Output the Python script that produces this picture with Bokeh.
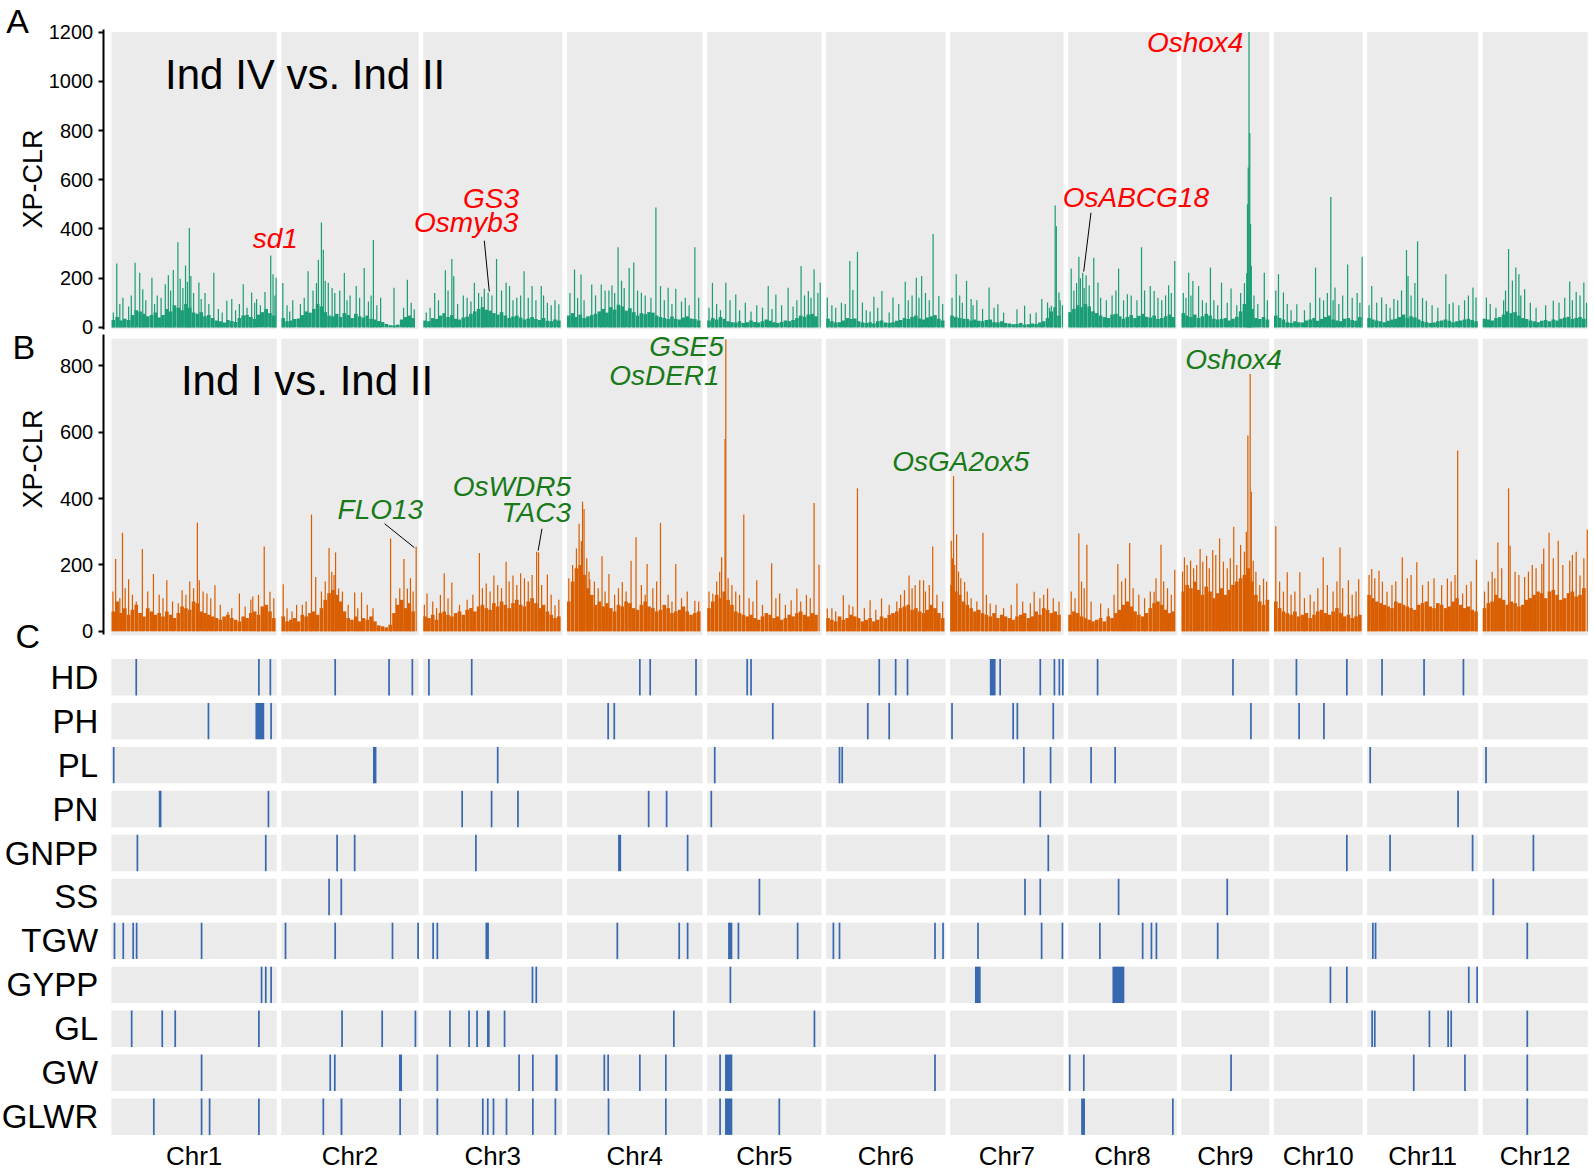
import math
from bokeh.plotting import figure
from bokeh.models import Range1d, Label, FixedTicker, LinearAxis
from bokeh.embed import file_html
from bokeh.resources import INLINE

FONT = "Liberation Sans"

# ---------------- data ----------------
chrom_names = ["Chr1", "Chr2", "Chr3", "Chr4", "Chr5", "Chr6", "Chr7", "Chr8", "Chr9", "Chr10", "Chr11", "Chr12"]
chrom_len = [43.27, 35.94, 36.41, 35.50, 29.96, 31.25, 29.70, 28.44, 23.01, 23.21, 29.02, 27.53]

a_yticks = [0, 200, 400, 600, 800, 1000, 1200]
b_yticks = [0, 200, 400, 600, 800]

# Panel A (Ind IV vs. Ind II): dense background level in 1-Mb bins, per chromosome
a_base = [
    [30,42,28,35,30,50,70,65,55,45,50,60,40,50,75,65,90,80,70,95,80,60,55,62,45,50,38,28,25,20,30,26,22,38,48,50,42,34,52,62,75,58,48],
    [38,25,28,34,36,50,65,60,75,95,85,62,48,45,55,42,58,50,38,55,45,40,48,35,32,26,22,14,9,8,11,32,42,48,38],
    [28,25,38,34,48,58,42,50,35,32,40,44,55,65,75,82,72,68,58,52,62,48,38,44,48,40,32,36,42,34,30,38,27,25,32,28],
    [48,58,42,52,38,45,50,55,65,75,60,82,72,92,85,68,78,62,48,58,54,62,60,48,42,38,34,44,35,32,40,45,36,34,28],
    [28,38,32,42,35,25,21,20,25,18,21,28,22,20,25,32,27,21,18,22,28,25,30,38,48,43,52,55,45],
    [35,25,20,21,28,38,34,36,25,20,18,21,16,25,28,20,18,21,27,30,38,34,42,48,36,32,40,45,50,35,28],
    [48,42,38,35,34,28,32,27,25,30,32,21,20,25,18,16,13,14,18,11,13,16,14,20,25,38,65,82,48],
    [62,75,90,82,95,85,65,58,48,42,38,52,55,45,35,42,50,38,47,55,43,40,48,34,38,45,52,42],
    [58,48,42,52,38,45,55,48,35,32,34,38,28,35,43,65,95,120,75,38,34,42,32],
    [48,38,32,21,18,25,21,20,28,32,38,27,34,42,48,32,28,25,35,38,30,27,42],
    [38,32,28,25,21,27,32,35,42,52,38,45,40,32,25,21,18,20,25,28,32,27,21,25,28,32,35,30,25],
    [35,32,28,38,42,52,65,58,62,48,38,34,28,25,21,27,30,25,32,28,35,40,43,34,38,42,35],
]
# Panel A major peaks: (position in Mb, XP-CLR)
a_peaks = [
    [(1.4,260),(3.0,120),(6.2,263),(7.4,222),(8.2,155),(10.6,202),(12.0,130),(14.1,175),(14.9,212),(16.2,233),(17.4,346),(18.0,198),(19.4,252),(20.4,404),(20.8,209),(22.9,182),(24.5,140),(26.8,222),(30.2,108),(31.5,115),(34.5,175),(36.7,142),(38.0,115),(40.2,144),(41.7,292),(42.3,216),(43.1,202)],
    [(0.4,180),(3.0,110),(7.0,228),(9.7,275),(10.5,426),(11.0,315),(12.3,181),(14.0,140),(16.5,221),(18.0,130),(19.6,168),(21.7,241),(24.1,355),(26.0,120),(29.5,161),(33.0,194),(34.8,74)],
    [(0.8,60),(3.0,140),(5.8,232),(7.5,278),(8.0,208),(10.5,130),(13.4,181),(16.0,157),(17.0,141),(19.2,278),(21.7,181),(22.6,168),(24.5,120),(26.4,228),(28.5,168),(30.9,168),(32.5,100),(35.5,94)],
    [(2.0,235),(3.7,215),(6.5,174),(9.0,174),(11.0,150),(13.4,326),(16.3,241),(17.5,264),(19.5,141),(23.3,487),(24.5,168),(26.5,161),(28.5,157),(31.0,120),(33.5,326)],
    [(1.4,181),(4.9,181),(7.5,134),(10.0,100),(13.0,90),(16.0,168),(18.0,134),(21.2,161),(24.6,249),(26.5,148),(28.0,236),(29.6,182)],
    [(0.3,121),(4.0,100),(6.2,270),(7.0,152),(8.2,307),(9.5,101),(12.5,125),(14.6,148),(17.5,121),(20.7,185),(23.6,202),(25.0,209),(28.0,380),(29.5,128)],
    [(1.6,216),(4.3,189),(5.5,115),(10.2,162),(12.5,94),(17.5,74),(19.5,88),(24.0,115),(25.5,101),(26.5,88),(27.5,495),(27.8,411),(28.5,142)],
    [(0.8,239),(2.8,287),(3.8,222),(4.7,212),(6.7,283),(7.8,182),(13.2,239),(15.5,135),(19.2,326),(21.5,168),(22.5,148),(26.3,171),(27.9,270)],
    [(1.9,222),(3.0,189),(4.5,168),(7.6,243),(10.5,182),(13.0,158),(17.3,500),(17.5,650),(17.7,1200),(17.9,790),(18.1,420),(18.3,250),(21.7,222)],
    [(1.2,216),(2.5,142),(6.0,94),(10.9,243),(14.9,530),(16.0,162),(19.3,256),(23.1,287)],
    [(1.2,168),(3.8,121),(7.0,115),(10.3,314),(10.7,209),(13.2,350),(15.5,108),(20.6,216),(22.5,101),(27.7,162),(28.5,121)],
    [(1.0,121),(6.8,319),(8.7,243),(9.5,216),(11.0,155),(18.5,108),(22.8,186),(24.5,144),(26.5,182)],
]
# Panel A smaller peaks
a_minor = [
    [(0.5,60),(2.2,95),(4.5,85),(5.2,130),(9.0,110),(11.3,95),(13.0,120),(15.5,150),(18.7,160),(19.9,185),(21.5,140),(23.5,115),(25.5,95),(28.0,75),(29.0,60),(32.5,70),(33.5,95),(35.5,80),(37.5,100),(39.0,90),(42.8,130)],
    [(1.5,90),(2.2,65),(5.0,95),(6.0,120),(8.3,150),(9.2,180),(11.5,190),(13.3,160),(15.3,150),(17.2,110),(20.5,120),(22.8,105),(23.5,130),(25.0,90),(32.0,80),(34.0,100)],
    [(1.8,80),(4.0,110),(6.5,150),(9.0,95),(11.5,120),(12.5,105),(14.5,140),(15.3,125),(18.0,130),(20.5,150),(23.5,110),(25.5,130),(27.5,120),(29.5,110),(31.5,130),(33.5,90),(34.5,110)],
    [(0.8,140),(2.8,120),(4.5,110),(7.5,130),(10.0,150),(11.8,170),(12.5,140),(14.3,190),(15.0,160),(18.5,150),(20.5,130),(22.0,120),(25.5,110),(27.5,95),(30.0,105),(32.0,90),(34.5,120)],
    [(0.5,80),(2.5,95),(3.5,70),(6.0,110),(8.5,70),(11.5,65),(14.5,80),(17.0,75),(19.5,90),(22.5,85),(23.5,110),(25.5,130),(27.2,120),(29.0,140)],
    [(1.5,90),(2.5,80),(5.0,95),(10.5,70),(11.5,65),(13.5,80),(16.5,60),(19.0,95),(21.5,110),(22.5,130),(24.3,120),(26.0,140),(27.0,110),(30.5,95)],
    [(0.5,120),(2.5,130),(3.2,100),(6.0,90),(7.0,110),(8.5,75),(11.5,80),(14.0,60),(21.0,55),(22.5,60),(26.0,80),(28.8,110),(29.4,90)],
    [(1.5,150),(2.2,180),(3.2,200),(4.2,160),(5.5,170),(8.5,120),(10.0,110),(11.5,130),(12.5,150),(14.5,110),(16.5,130),(18.0,110),(20.0,150),(23.5,120),(24.5,110),(25.5,130),(27.0,140)],
    [(0.5,140),(1.2,120),(2.5,130),(5.5,110),(6.5,100),(8.5,110),(9.5,90),(12.0,100),(14.5,90),(15.5,140),(16.5,180),(17.1,220),(19.0,130),(20.0,95),(22.5,110)],
    [(0.5,150),(3.5,95),(4.5,70),(8.0,70),(9.5,100),(12.0,120),(13.0,110),(14.0,140),(15.5,110),(17.0,95),(18.0,130),(20.5,120),(21.8,140),(22.5,100)],
    [(0.5,90),(2.5,100),(5.0,95),(6.0,80),(8.0,110),(9.0,150),(11.5,130),(12.5,180),(14.5,120),(17.0,90),(18.5,80),(21.5,95),(24.0,90),(25.5,110),(26.5,130)],
    [(2.0,95),(3.5,80),(5.5,110),(6.0,150),(7.8,190),(10.0,130),(12.5,100),(14.0,80),(16.5,90),(20.0,100),(21.5,120),(23.5,110),(25.5,130),(27.2,100)],
]

# Panel B (Ind I vs. Ind II)
b_base = [
    [60,90,55,70,50,65,80,55,45,70,60,50,55,45,60,50,40,55,75,70,65,90,85,60,55,50,45,40,35,45,50,40,35,30,45,40,55,60,50,75,80,60,40],
    [45,30,35,40,30,50,45,55,60,50,70,95,115,125,110,90,60,40,35,45,30,40,35,45,30,18,15,12,20,55,80,95,70,85,60],
    [45,40,50,35,55,60,50,45,55,60,50,65,70,60,75,80,70,65,85,75,90,80,70,85,95,80,75,90,100,85,70,80,60,50,40,45],
    [90,150,190,200,170,130,110,80,90,75,85,70,60,80,75,90,85,70,65,80,90,75,70,60,65,80,70,55,60,65,75,60,50,55,60],
    [70,90,110,100,120,95,80,60,55,50,45,50,40,35,45,55,50,40,45,35,40,50,45,55,60,50,45,55,50],
    [40,35,30,45,35,40,50,45,40,30,35,40,30,35,45,40,50,55,60,70,75,80,65,70,60,55,65,80,70,55,40],
    [140,120,110,90,80,70,60,65,55,50,45,55,40,50,45,40,35,45,50,55,40,45,60,50,70,65,55,60,50],
    [50,60,55,45,40,35,30,35,40,30,45,40,55,65,80,90,75,60,50,45,55,70,85,90,80,65,55,60],
    [120,140,130,150,125,110,135,120,100,115,130,110,125,140,150,160,170,190,150,110,90,80,95],
    [90,70,60,55,50,60,45,50,55,40,50,60,65,55,50,60,70,55,45,50,40,45,50],
    [110,100,90,85,80,75,70,90,85,80,75,70,65,80,85,90,75,70,85,80,70,75,90,100,80,70,75,65,60],
    [70,85,90,110,100,95,80,90,85,75,80,95,100,110,120,115,100,120,125,110,95,100,115,120,105,110,130],
]
b_peaks = [
    [(1.1,218),(2.9,297),(4.5,157),(8.1,248),(11.0,173),(14.5,154),(18.5,124),(20.5,150),(22.5,327),(23.0,154),(25.0,114),(27.1,139),(30.5,59),(33.5,114),(37.0,105),(40.0,256),(41.5,119)],
    [(0.5,142),(4.0,80),(7.9,352),(9.0,164),(12.5,251),(14.2,238),(15.0,129),(19.2,117),(21.0,117),(28.6,280),(32.1,218),(33.0,129),(35.3,256)],
    [(1.0,114),(5.5,175),(7.5,147),(14.7,236),(16.5,144),(18.5,168),(21.7,210),(23.5,168),(25.5,175),(29.7,240),(30.2,238),(32.5,171),(34.5,79)],
    [(3.2,324),(3.8,272),(4.1,391),(4.5,369),(6.0,157),(9.2,226),(11.0,173),(14.5,149),(16.8,213),(18.1,284),(21.0,203),(24.5,327),(28.5,203),(33.5,92)],
    [(1.5,114),(3.8,223),(4.7,580),(4.9,880),(9.6,352),(13.0,154),(16.9,205),(19.0,114),(22.0,94),(23.5,129),(28.0,387),(29.3,201)],
    [(0.3,69),(4.5,109),(8.2,431),(11.5,94),(14.5,99),(20.5,124),(21.7,168),(24.5,154),(25.5,154),(27.9,256)],
    [(0.3,273),(0.9,468),(1.7,292),(3.8,149),(8.6,297),(10.5,84),(17.5,144),(22.0,119),(25.5,129)],
    [(2.8,295),(4.9,261),(8.5,84),(13.0,203),(16.1,266),(22.5,119),(24.3,261),(27.9,186)],
    [(0.8,223),(2.4,213),(4.9,248),(6.6,228),(8.2,245),(10.0,280),(13.7,315),(17.4,590),(18.0,776),(18.3,421),(18.8,213),(21.5,159)],
    [(0.5,317),(3.5,178),(6.8,178),(12.9,223),(17.3,253),(19.5,154),(22.2,157)],
    [(1.2,188),(3.1,183),(5.2,119),(9.2,223),(13.0,208),(21.0,159),(23.7,545),(25.0,114),(28.6,216)],
    [(4.0,268),(6.8,431),(7.2,258),(11.0,164),(15.5,203),(17.4,297),(19.8,273),(22.8,213),(25.5,168),(27.4,307)],
]
b_minor = [
    [(0.4,120),(2.2,100),(3.6,130),(5.5,110),(6.5,90),(9.5,120),(12.5,110),(13.5,100),(16.0,90),(17.5,85),(19.5,110),(21.5,130),(24.0,120),(26.0,100),(28.5,80),(31.5,70),(35.0,75),(36.5,95),(38.5,110),(42.5,100)],
    [(1.5,70),(2.8,60),(5.5,80),(6.5,90),(10.5,120),(11.5,150),(13.2,180),(13.8,170),(16.0,120),(17.5,80),(20.0,70),(22.5,80),(24.0,70),(30.0,100),(31.0,130),(33.8,160),(34.5,120)],
    [(0.3,80),(2.5,90),(3.5,70),(4.5,110),(6.5,100),(9.5,80),(11.5,95),(13.0,110),(15.5,130),(17.5,120),(19.5,140),(20.5,130),(22.5,150),(24.5,140),(26.5,160),(27.5,150),(28.5,170),(31.0,140),(33.5,110),(35.5,95)],
    [(0.5,160),(1.5,200),(2.5,250),(5.2,220),(5.8,180),(7.2,150),(8.2,130),(10.0,120),(12.5,110),(13.5,130),(15.5,120),(19.5,140),(20.5,110),(22.5,130),(23.5,150),(26.5,110),(27.5,90),(30.0,100),(31.5,120),(34.5,90)],
    [(0.5,120),(2.5,150),(3.3,180),(5.5,160),(6.5,140),(7.5,120),(8.5,110),(11.0,100),(12.0,90),(14.5,80),(18.0,100),(20.5,80),(24.5,90),(26.0,110),(27.0,100)],
    [(1.5,70),(2.5,60),(6.0,80),(7.0,75),(10.0,70),(13.0,65),(16.5,80),(18.5,90),(19.5,110),(22.5,130),(23.3,140),(26.0,120),(27.0,140),(29.0,110),(30.5,90)],
    [(0.6,220),(1.2,200),(2.2,180),(2.8,160),(4.5,120),(5.5,100),(7.0,90),(9.5,110),(12.0,80),(14.0,70),(16.0,80),(19.0,90),(21.0,85),(23.5,100),(24.5,110),(27.0,100),(28.5,90)],
    [(0.8,120),(1.8,100),(3.5,150),(4.2,130),(6.0,90),(10.5,70),(12.0,110),(14.0,150),(15.0,160),(17.0,130),(18.5,110),(20.0,100),(21.5,120),(23.0,160),(25.0,150),(26.0,130),(27.0,110)],
    [(0.3,180),(1.5,200),(3.2,190),(4.0,200),(5.6,210),(7.3,190),(9.0,230),(11.0,210),(12.0,190),(12.8,220),(14.5,200),(15.5,260),(16.5,240),(17.0,300),(19.5,180),(20.5,140),(22.3,150)],
    [(1.5,150),(2.5,120),(4.5,110),(5.5,120),(8.0,100),(9.5,110),(10.5,90),(11.5,130),(14.0,140),(15.5,120),(16.5,150),(18.0,130),(20.5,110),(21.5,120)],
    [(0.5,170),(2.0,160),(4.0,150),(6.5,140),(7.5,150),(10.5,160),(11.5,170),(14.5,140),(16.0,150),(17.5,160),(19.5,140),(22.0,150),(23.0,170),(26.0,140),(27.2,150)],
    [(0.5,120),(1.5,150),(2.5,180),(3.2,160),(5.0,190),(8.5,180),(9.5,170),(12.0,180),(13.0,200),(14.0,190),(16.0,250),(18.5,220),(21.0,200),(23.5,230),(24.5,240),(26.5,220)],
]

# Panel C: trait-associated regions, (chromosome, start Mb[, end Mb])
traits = ["HD", "PH", "PL", "PN", "GNPP", "SS", "TGW", "GYPP", "GL", "GW", "GLWR"]
qtl_HD = [(1,6.5),(1,38.6),(1,41.6),(2,14.1),(2,28.2),(2,34.3),(3,1.5),(3,12.7),(4,19.1),(4,21.8),(4,33.8),(5,10.5),(5,11.5),(6,13.9),(6,18.2),(6,21.3),(7,10.4,11.9),(7,13.1),(7,23.6),(7,27.3),(7,28.6),(7,29.5),(8,7.7),(9,13.5),(10,5.9),(10,19.1),(11,3.9),(11,14.9),(11,25.2)]
qtl_PH = [(1,25.4),(1,37.7,40.0),(1,41.8),(4,10.8),(4,12.4),(5,17.2),(6,10.9),(6,16.5),(7,0.5),(7,16.5),(7,17.6),(7,27.0),(9,18.0,18.4),(10,6.6),(10,13.1)]
qtl_PL = [(1,0.6),(2,24.0,24.9),(3,19.5),(5,2.0),(6,3.5),(6,4.2),(7,19.3),(7,26.3),(8,6.0),(8,12.3),(11,0.8),(12,0.9)]
qtl_PN = [(1,12.4,13.1),(1,41.1),(3,10.2),(3,17.9),(3,24.8),(4,21.4),(4,26.1),(5,1.1),(7,23.6),(11,23.8)]
qtl_GNPP = [(1,6.8),(1,40.4),(2,14.6),(2,19.2),(3,13.8),(4,13.4,14.2),(4,31.6),(7,25.7),(10,19.1),(11,6.0),(11,27.6),(12,13.3)]
qtl_SS = [(2,12.5),(2,15.7),(5,13.7),(7,19.6),(7,23.6),(8,13.2),(9,12.0),(12,2.8)]
qtl_TGW = [(1,0.8),(1,3.1),(1,5.7),(1,6.6),(1,23.6),(2,1.1),(2,14.1),(2,29.1),(2,35.8),(3,2.6),(3,3.7),(3,16.3,17.2),(4,13.2),(4,29.4),(4,31.6),(5,5.5,6.6),(5,8.2),(5,23.7),(6,1.9),(6,3.5),(6,28.5),(6,30.6),(7,7.3),(7,23.8,24.1),(7,29.4),(8,8.3),(8,19.5),(8,21.8),(8,23.1),(9,9.5),(11,1.5),(11,2.2),(12,11.7)]
qtl_GYPP = [(1,39.3),(1,40.4),(1,41.8),(3,28.6),(3,29.6),(5,6.1),(7,6.5,8.0),(8,11.6,14.7),(10,14.8),(10,19.1),(11,26.6),(11,28.8)]
qtl_GL = [(1,5.3),(1,13.3),(1,16.7),(1,38.6),(2,15.9),(2,26.4),(2,35.1),(3,7.0),(3,12.0),(3,14.1),(3,16.7,17.4),(3,21.3),(4,28.0),(5,28.1),(11,1.3),(11,2.0),(11,16.3),(11,21.2),(11,22.0),(12,11.7)]
qtl_GW = [(1,23.6),(2,12.8),(2,14.0),(2,30.8,31.6),(3,3.7),(3,25.1),(3,28.7),(3,34.6,35.2),(4,9.8),(4,10.8),(4,19.1),(4,25.9),(5,3.4),(5,4.7,6.6),(6,28.5),(8,0.4),(8,4.1),(9,13.0),(11,12.2),(11,25.4,25.8),(12,11.7)]
qtl_GLWR = [(1,11.1),(1,23.6),(1,25.7),(1,38.6),(2,11.0),(2,15.5,16.0),(2,31.1),(3,3.7),(3,15.6),(3,16.9),(3,18.4),(3,21.8),(3,28.7),(3,34.6),(4,10.9),(4,25.9),(5,3.4),(5,4.7,6.6),(5,18.9),(8,3.4,4.4),(8,27.4),(12,11.7)]
qtl_lists = [qtl_HD, qtl_PH, qtl_PL, qtl_PN, qtl_GNPP, qtl_SS, qtl_TGW, qtl_GYPP, qtl_GL, qtl_GW, qtl_GLWR]

genes_a = ["sd1", "GS3", "Osmyb3", "OsABCG18", "Oshox4"]
genes_b = ["GSE5", "OsDER1", "Oshox4", "OsGA2ox5", "OsWDR5", "TAC3", "FLO13"]

# ---------------- genome coordinate ----------------
GAP = 1.2
starts = []
acc = 0.0
for L in chrom_len:
    starts.append(acc)
    acc += L + GAP
ends = [s + L for s, L in zip(starts, chrom_len)]
centers = [s + L / 2 for s, L in zip(starts, chrom_len)]

GREEN = "#1b9e77"
ORANGE = "#d95f02"
BLUE = "#3868b0"
GRAY = "#ebebeb"
RED = "#ff0000"
DKGREEN = "#187a18"

W, H = 1590, 1170
# default y range = vertical position on the page (top = 0); each panel uses its own range
p = figure(width=W, height=H, x_range=Range1d(-29.034, 387.154), y_range=Range1d(1174, 0),
           output_backend="svg", toolbar_location=None, x_axis_location=None, y_axis_location=None,
           min_border=0)
p.outline_line_color = None
p.background_fill_color = "white"
p.border_fill_color = "white"
p.grid.visible = False
p.extra_y_ranges = {"a": Range1d(-3426.2, 1328.4),
                    "b": Range1d(-1625.2, 1901.6),
                    "c": Range1d(11.224, -15.397)}


def draw_track(rng, base, peaks, minor, color, ylo, yhi):
    p.quad(left=starts, right=ends, bottom=ylo, top=yhi, color=GRAY, line_color=None, y_range_name=rng)
    xs, tops = [], []
    for i, vals in enumerate(base):
        for j, v in enumerate(vals):
            xs.append(starts[i] + j + 0.5)
            tops.append(v)
    p.vbar(x=xs, top=tops, width=0.95, bottom=0, fill_color=color, line_color=None, y_range_name=rng)
    xs, tops = [], []
    for group in (minor, peaks):
        for i, sp in enumerate(group):
            for pos, v in sp:
                xs.append(starts[i] + pos)
                tops.append(v)
    p.vbar(x=xs, top=tops, width=0.32, bottom=0, fill_color=color, line_color=None, y_range_name=rng)


def yaxis(rng, ticks, bounds):
    ax = LinearAxis(y_range_name=rng, fixed_location=-2.14, bounds=bounds, ticker=FixedTicker(ticks=ticks))
    ax.axis_line_width = 2
    ax.axis_line_color = "black"
    ax.major_tick_line_width = 2
    ax.major_tick_line_color = "black"
    ax.major_tick_out = 5
    ax.major_tick_in = 0
    ax.minor_tick_line_color = None
    ax.major_label_standoff = 5
    ax.major_label_text_font = FONT
    ax.major_label_text_font_size = "20px"
    ax.major_label_text_color = "black"
    p.add_layout(ax, "left")


def lbl(x, y, text, size, color="black", align="left", style="normal", angle=0.0):
    # y is the vertical centre of the text line
    p.add_layout(Label(x=x, y=y, text=text, text_font=FONT, text_font_size=size, text_color=color,
                       text_align=align, text_font_style=style, text_baseline="middle", angle=angle))


# ---------------- Panel A ----------------
draw_track("a", a_base, a_peaks, a_minor, GREEN, -8, 1200)
yaxis("a", a_yticks, (-8, 1212))
lbl(-20.4, 179, "XP-CLR", "27px", align="center", angle=math.pi / 2)
lbl(-27.5, 21, "A", "34px")
lbl(14.05, 74, "Ind IV vs. Ind II", "42px")
a_pos = [(42.9, 239, "center"), (106.7, 199, "right"), (106.5, 223, "right"), (249.0, 198, "left"), (296.3, 42, "right")]
for g, (x, y, al) in zip(genes_a, a_pos):
    lbl(x, y, g, "28px", RED, al, "italic")
p.segment(x0=[97.6, 256.4], y0=[241, 213], x1=[98.9, 254.5], y1=[292, 272], line_color="black", line_width=1)

# ---------------- Panel B ----------------
draw_track("b", b_base, b_peaks, b_minor, ORANGE, -12, 882)
yaxis("b", b_yticks, (-9, 895))
lbl(-20.4, 460, "XP-CLR", "27px", align="center", angle=math.pi / 2)
lbl(-25.9, 347.5, "B", "34px")
lbl(18.2, 381, "Ind I vs. Ind II", "42px")
b_pos = [(160.3, 347, "right"), (159.2, 376, "right"), (281.1, 360, "left"), (204.4, 463, "left"),
         (120.3, 488, "right"), (120.3, 514, "right"), (59.2, 511, "left")]
for g, (x, y, al) in zip(genes_b, b_pos):
    lbl(x, y, g, "28px", DKGREEN, al, "italic")
p.segment(x0=[71.5, 112.7], y0=[525, 530], x1=[79.3, 111.7], y1=[549, 552], line_color="black", line_width=1)

# ---------------- Panel C ----------------
gx, gy, gw = [], [], []
for r in range(len(traits)):
    for c, L in zip(centers, chrom_len):
        gx.append(c)
        gy.append(r)
        gw.append(L)
p.rect(x=gx, y=gy, width=gw, height=0.828, fill_color=GRAY, line_color=None, y_range_name="c")

qx, qy, qw = [], [], []
for r, items in enumerate(qtl_lists):
    for item in items:
        c = item[0]
        s = item[1]
        e = item[2] if len(item) > 2 else item[1]
        qx.append(starts[c - 1] + (s + e) / 2)
        qy.append(r)
        qw.append(max(e - s, 0.45))
p.rect(x=qx, y=qy, width=qw, height=0.828, fill_color=BLUE, line_color=None, y_range_name="c")

ayc = LinearAxis(y_range_name="c", fixed_location=-1.36, ticker=FixedTicker(ticks=list(range(len(traits)))))
ayc.major_label_overrides = {i: t for i, t in enumerate(traits)}
ayc.axis_line_color = None
ayc.major_tick_line_color = None
ayc.minor_tick_line_color = None
ayc.major_label_standoff = 2
ayc.major_label_text_font = FONT
ayc.major_label_text_font_size = "33px"
ayc.major_label_text_color = "black"
p.add_layout(ayc, "left")

axx = LinearAxis(fixed_location=1141, ticker=FixedTicker(ticks=centers))
axx.major_label_overrides = {c: n for c, n in zip(centers, chrom_names)}
axx.axis_line_color = None
axx.major_tick_line_color = None
axx.minor_tick_line_color = None
axx.major_tick_out = 0
axx.major_label_standoff = 3
axx.major_label_text_font = FONT
axx.major_label_text_font_size = "26px"
axx.major_label_text_color = "black"
p.add_layout(axx, "below")

lbl(-25.1, 637.5, "C", "34px")

open("out.html", "w").write(file_html(p, INLINE))
